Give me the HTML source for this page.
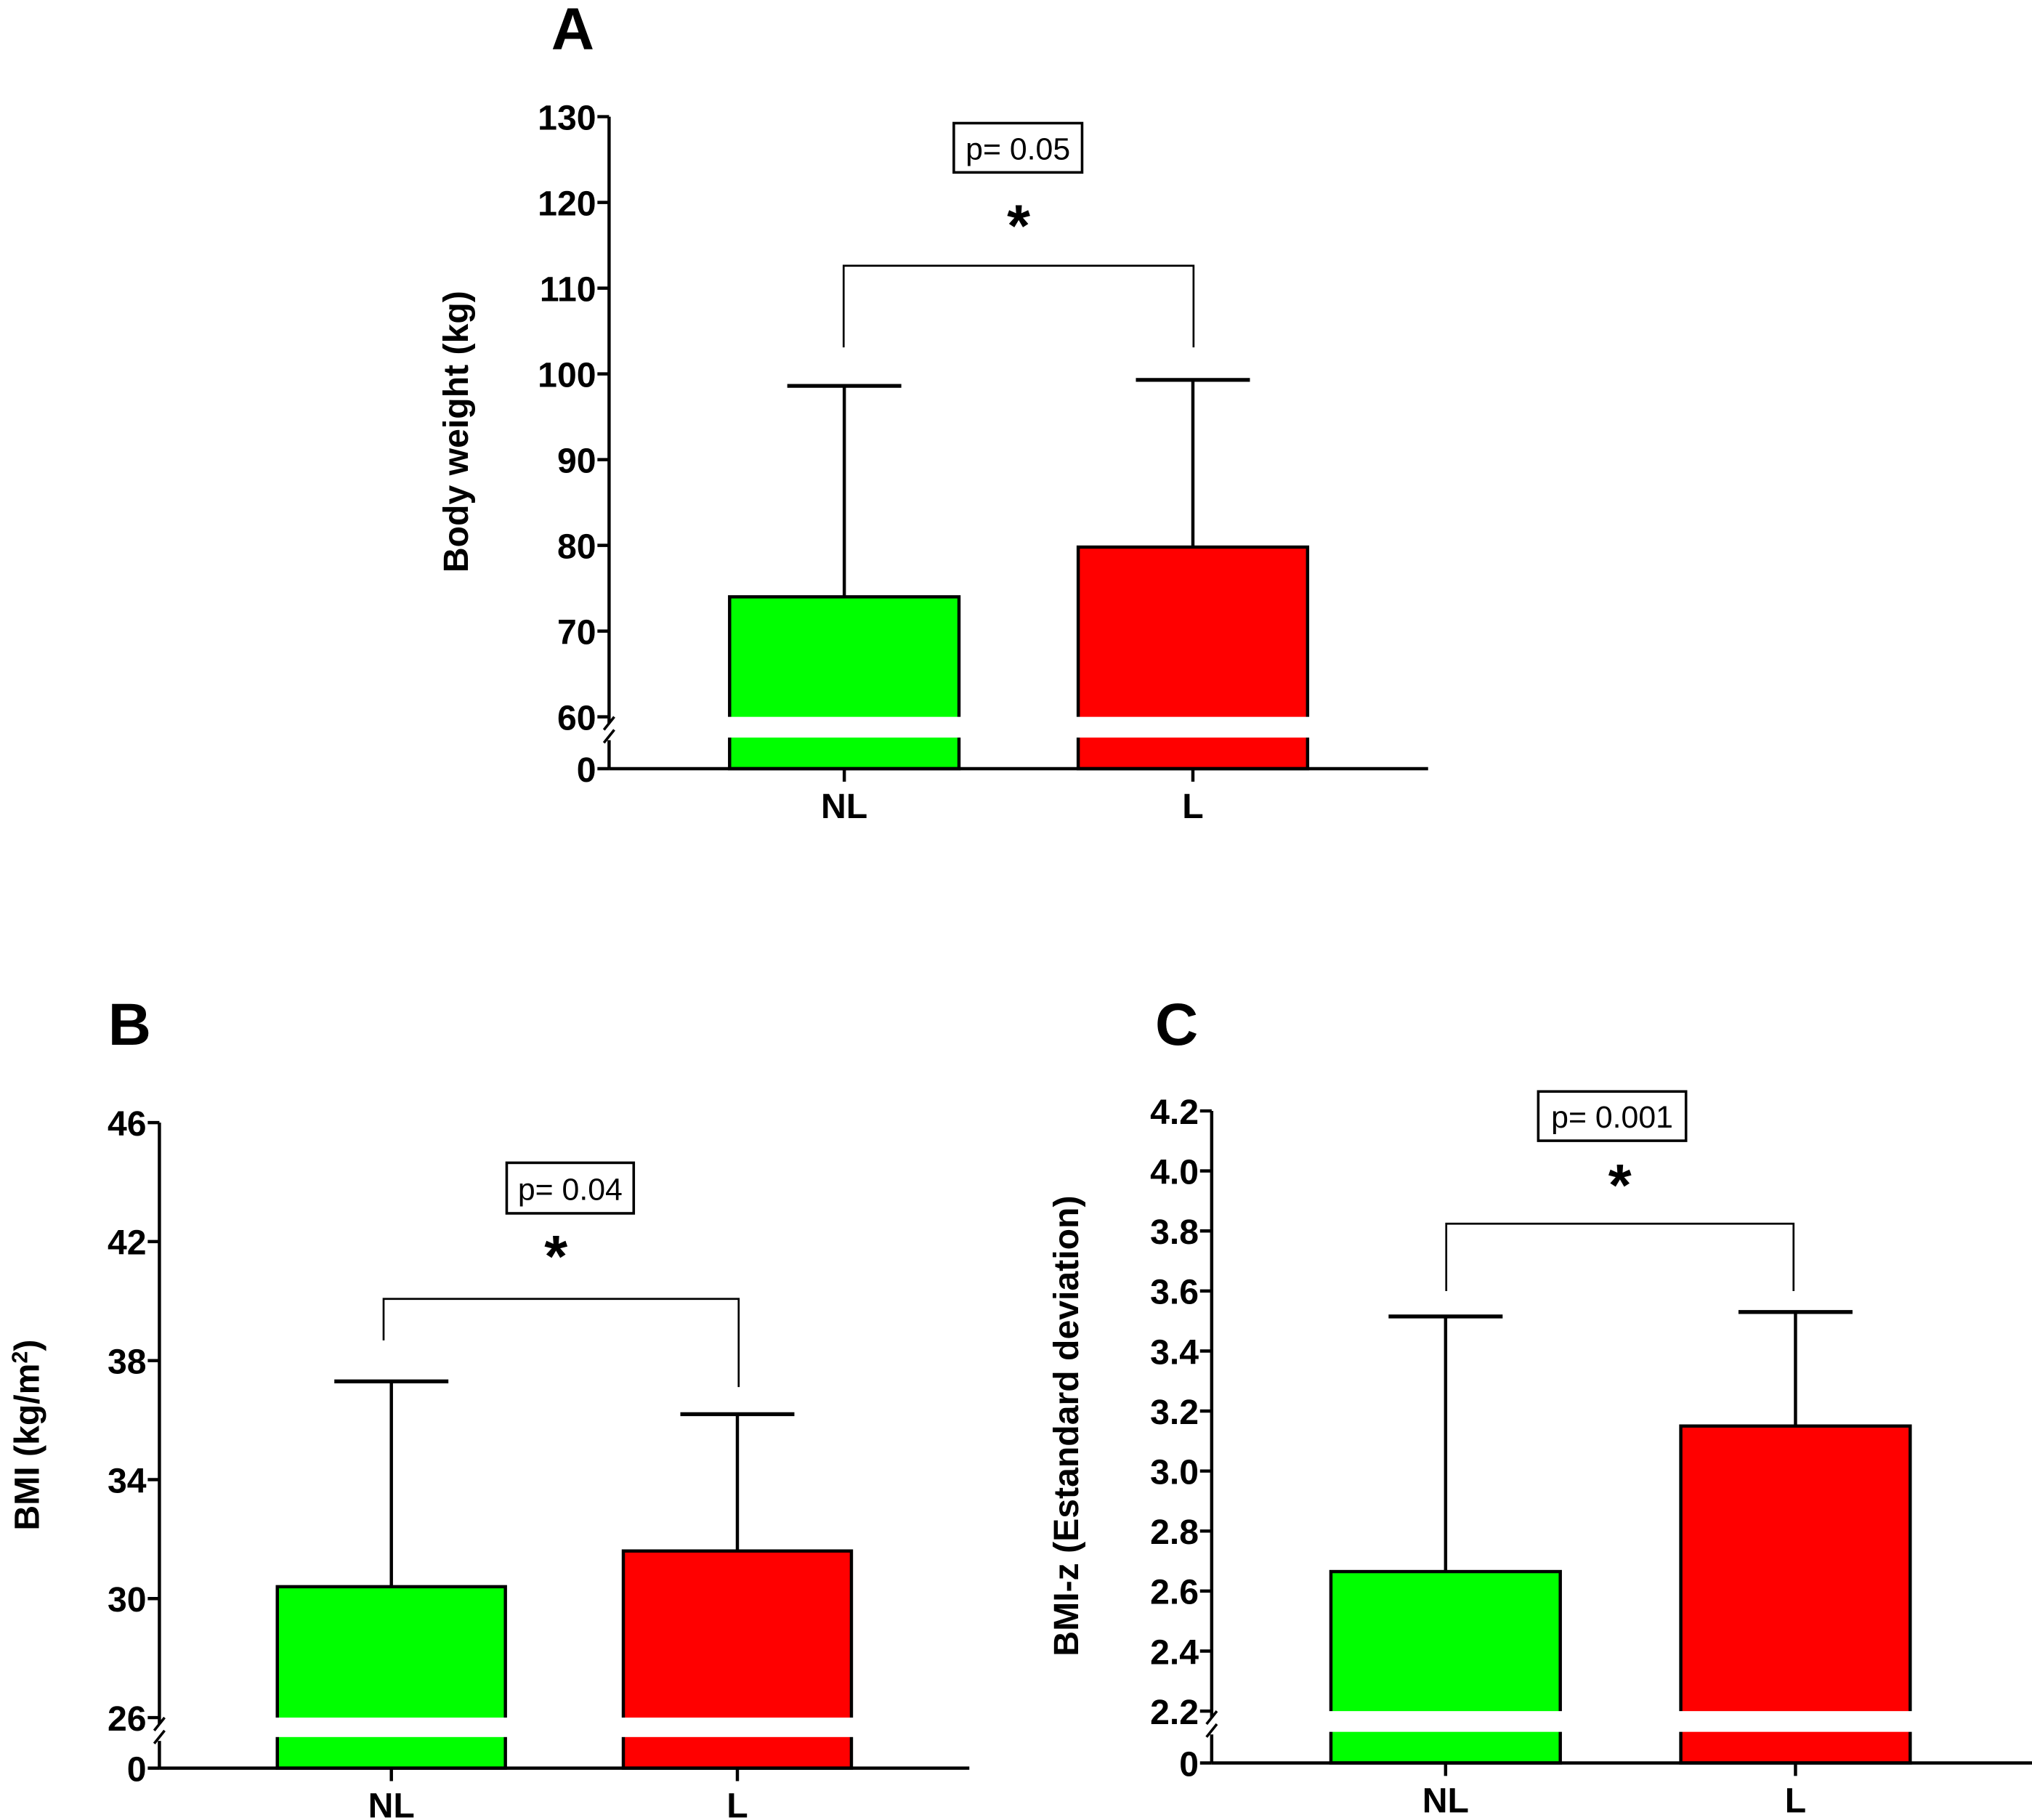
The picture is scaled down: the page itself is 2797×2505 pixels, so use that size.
<!DOCTYPE html>
<html><head><meta charset="utf-8"><style>
html,body{margin:0;padding:0;background:#fff;}
svg{display:block;font-family:"Liberation Sans",Arial,sans-serif;}
</style></head><body>
<svg id="fig" width="2797" height="2505" viewBox="0 0 1568 1404" preserveAspectRatio="none" xmlns="http://www.w3.org/2000/svg"></svg>
<script>
const categories = ["NL", "L"];
const weightMeans = [74.0, 79.8];
const weightSD = [98.6, 99.3];
const weightTicks = [60, 70, 80, 90, 100, 110, 120, 130];
const bmiMeans = [30.4, 31.6];
const bmiSD = [37.3, 36.2];
const bmiTicks = [26, 30, 34, 38, 42, 46];
const bmizMeans = [2.665, 3.15];
const bmizSD = [3.515, 3.53];
const bmizTicks = [2.2, 2.4, 2.6, 2.8, 3.0, 3.2, 3.4, 3.6, 3.8, 4.0, 4.2];
const pLabels = ["p= 0.05", "p= 0.04", "p= 0.001"];

const NS = "http://www.w3.org/2000/svg";
const svg = document.getElementById("fig");
function mk(tag, attrs, parent, text) {
  const e = document.createElementNS(NS, tag);
  for (const k in attrs) e.setAttribute(k, attrs[k]);
  if (text !== undefined) e.textContent = text;
  (parent || svg).appendChild(e);
  return e;
}

function panel(cfg) {
  const g = mk("g", {});
  
  
  const ticks = cfg.ticks;
  const lo = ticks[0], hi = ticks[ticks.length - 1];
  const y = v => cfg.yLo + (v - lo) / (hi - lo) * (cfg.yHi - cfg.yLo);
  const L = mk("text", {x: cfg.letterX, y: cfg.letterY, "font-size": 46, "font-weight": "bold", "text-anchor": "middle"}, g, cfg.letter);
  
  
  const colors = ["#00ff00", "#ff0000"];
  categories.forEach((c, i) => {
    const x0 = cfg.barX[i], w = cfg.barW, cx = x0 + w / 2;
    const top = y(cfg.means[i]);
    const eb = y(cfg.sd[i]);
    const wl = mk("line", {x1: cx, x2: cx, y1: top, y2: eb, stroke: "#000", "stroke-width": 2.5}, g);
    
    
    const cap = mk("line", {x1: cx - 44, x2: cx + 44, y1: eb, y2: eb, stroke: "#000", "stroke-width": 3}, g);
    
    
    const r = mk("rect", {x: x0, y: top, width: w, height: cfg.x0y - top, fill: colors[i], stroke: "#000", "stroke-width": 2.5}, g);
    
    
    const br = mk("rect", {x: x0 - 3, y: cfg.yLo, width: w + 6, height: cfg.x0y - cfg.yLo - 24, fill: "#fff"}, g);
    
    
    const xl = mk("text", {x: cx, y: cfg.x0y + 38, "font-size": 27, "font-weight": "bold", "text-anchor": "middle"}, g, c);
    
    
    const xt = mk("line", {x1: cx, x2: cx, y1: cfg.x0y, y2: cfg.x0y + 10, stroke: "#000", "stroke-width": 2.5}, g);
    
    
  });
  const ya1 = mk("line", {x1: cfg.ax, x2: cfg.ax, y1: cfg.yHi, y2: cfg.yLo + 5, stroke: "#000", "stroke-width": 2.5}, g);
  
  
  const ya2 = mk("line", {x1: cfg.ax, x2: cfg.ax, y1: cfg.yLo + 18, y2: cfg.x0y, stroke: "#000", "stroke-width": 2.5}, g);
  
  
  const bk = mk("path", {d: `M${cfg.ax-4} ${cfg.yLo+10} l8 -10 M${cfg.ax-4} ${cfg.yLo+20} l8 -10`, stroke: "#000", "stroke-width": 2, fill: "none"}, g);
  
  
  const xa = mk("line", {x1: cfg.ax, x2: cfg.axEnd, y1: cfg.x0y, y2: cfg.x0y, stroke: "#000", "stroke-width": 2.5}, g);
  
  
  ticks.forEach(t => {
    const ty = y(t);
    const tl = mk("line", {x1: cfg.ax - 9, x2: cfg.ax, y1: ty, y2: ty, stroke: "#000", "stroke-width": 2.5}, g);
    
    
    const tx = mk("text", {x: cfg.ax - 10, y: ty + 10, "font-size": 27, "font-weight": "bold", "text-anchor": "end"}, g, cfg.fmt(t));
    
    
  });
  const z = mk("text", {x: cfg.ax - 10, y: cfg.x0y + 10, "font-size": 27, "font-weight": "bold", "text-anchor": "end"}, g, "0");
  
  
  const zt = mk("line", {x1: cfg.ax - 9, x2: cfg.ax, y1: cfg.x0y, y2: cfg.x0y, stroke: "#000", "stroke-width": 2.5}, g);
  
  
  const yt = mk("text", {x: 0, y: 0, "font-size": 27, "font-weight": "bold", "text-anchor": "middle", transform: `translate(${cfg.ytX},${cfg.ytY}) rotate(-90)`}, g);
  
  
  yt.innerHTML = cfg.ytitle;
  const c0 = cfg.brX[0], c1 = cfg.brX[1];
  const bp = mk("path", {d: `M${c0} ${cfg.brL} V${cfg.brY} H${c1} V${cfg.brR}`, stroke: "#000", "stroke-width": 1.5, fill: "none"}, g);
  
  
  const st = mk("text", {x: cfg.starX, y: cfg.starY + 30, "font-size": 46, "font-weight": "bold", "text-anchor": "middle"}, g, "*");
  
  
  const pb = mk("rect", {x: cfg.pBox[0], y: cfg.pBox[1], width: cfg.pBox[2], height: cfg.pBox[3], fill: "#fff", stroke: "#000", "stroke-width": 2}, g);
  
  
  const pt = mk("text", {x: cfg.pBox[0] + cfg.pBox[2] / 2, y: cfg.pBox[1] + cfg.pBox[3] / 2 + 9, "font-size": 24, "text-anchor": "middle"}, g, cfg.p);
  
  
}

panel({name: "panel-a-body-weight", letter: "A", letterX: 442, letterY: 38, ticks: weightTicks, means: weightMeans, sd: weightSD,
  yLo: 553, yHi: 90, x0y: 593, ax: 470, axEnd: 1102, barX: [563, 832], barW: 177, fmt: t => String(t),
  ytX: 361, ytY: 333, ytitle: "Body weight (kg)", brX: [651, 921], brY: 205, brL: 268, brR: 268, starX: 786, starY: 160,
  pBox: [736, 95, 99, 38], p: pLabels[0]});
panel({name: "panel-b-bmi", letter: "B", letterX: 100, letterY: 806, ticks: bmiTicks, means: bmiMeans, sd: bmiSD,
  yLo: 1325, yHi: 866, x0y: 1364, ax: 123, axEnd: 748, barX: [214, 481], barW: 176, fmt: t => String(t),
  ytX: 30, ytY: 1107, ytitle: 'BMI (kg/m<tspan baseline-shift="super" font-size="17">2</tspan>)', brX: [296, 570], brY: 1002, brL: 1034, brR: 1070, starX: 429, starY: 955,
  pBox: [391, 897, 98, 39], p: pLabels[1]});
panel({name: "panel-c-bmi-z", letter: "C", letterX: 908, letterY: 806, ticks: bmizTicks, means: bmizMeans, sd: bmizSD,
  yLo: 1320, yHi: 857, x0y: 1360, ax: 935, axEnd: 1568, barX: [1027, 1297], barW: 177, fmt: t => t.toFixed(1),
  ytX: 832, ytY: 1100, ytitle: "BMI-z (Estandard deviation)", brX: [1116, 1384], brY: 944, brL: 996, brR: 996, starX: 1250, starY: 900,
  pBox: [1187, 842, 114, 38], p: pLabels[2]});
</script>
</body></html>
